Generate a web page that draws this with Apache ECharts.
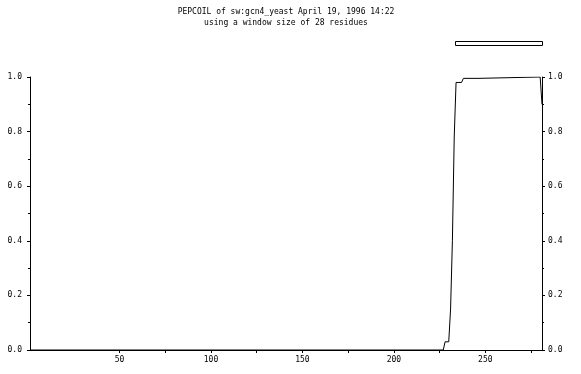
<!DOCTYPE html>
<html>
<head>
<meta charset="utf-8">
<script src="https://cdn.jsdelivr.net/npm/echarts@6/dist/echarts.min.js"></script>
<style>html,body{margin:0;padding:0;background:#fff;}#c{width:581px;height:374px;}</style>
</head>
<body>
<div id="c"></div>
<script>
const titleText = 'PEPCOIL of sw:gcn4_yeast April 19, 1996 14:22';
const subtitleText = 'using a window size of 28 residues';
const residues = [1, 227, 228, 230, 231, 232, 233, 234, 237, 238, 246, 247, 280, 281];
const scores   = [0, 0, 0.03, 0.03, 0.15, 0.40, 0.78, 0.98, 0.98, 0.995, 0.995, 1.0, 1.0, 0.9];
const xLabelValues = [50, 100, 150, 200, 250];
const xTickValues = [50, 75, 100, 125, 150, 175, 200, 225, 250, 275];

const FONT = 'DejaVu Sans Mono';
const chart = echarts.init(document.getElementById('c'), null, {renderer: 'canvas'});
const yAxisBase = {
  type: 'value', min: 0, max: 1, interval: 0.2,
  axisLine: {show: true, lineStyle: {color: '#000', width: 1}},
  axisTick: {show: true, length: 3, lineStyle: {color: '#000'}},
  minorTick: {show: true, splitNumber: 2, length: 2, lineStyle: {color: '#000'}},
  splitLine: {show: false},
  axisLabel: {color: '#000', fontFamily: FONT, fontSize: 8, formatter: v => v.toFixed(1)}
};
chart.setOption({
  animation: false,
  backgroundColor: '#fff',
  grid: {left: 30, right: 39, top: 77, bottom: 24, containLabel: false},
  xAxis: {
    type: 'value', min: 1, max: 281,
    axisLine: {show: true, onZero: false, lineStyle: {color: '#000', width: 1}},
    axisTick: {show: true, length: 3, customValues: xTickValues, lineStyle: {color: '#000'}},
    axisLabel: {color: '#000', fontFamily: FONT, fontSize: 8, margin: 6, customValues: xLabelValues},
    splitLine: {show: false}
  },
  yAxis: [
    Object.assign({}, yAxisBase, {position: 'left', axisLabel: Object.assign({}, yAxisBase.axisLabel, {margin: 8})}),
    Object.assign({}, yAxisBase, {position: 'right', axisLabel: Object.assign({}, yAxisBase.axisLabel, {margin: 6})})
  ],
  series: [{
    type: 'line',
    data: residues.map((r, i) => [r, scores[i]]),
    showSymbol: false,
    symbol: 'none',
    lineStyle: {color: '#000', width: 1},
    yAxisIndex: 0
  }],
  graphic: [
    {type: 'text', x: 286, y: 8, style: {text: titleText, fontFamily: FONT, fontSize: 8, fill: '#000', align: 'center', textAlign: 'center'}},
    {type: 'text', x: 286, y: 19, style: {text: subtitleText, fontFamily: FONT, fontSize: 8, fill: '#000', align: 'center', textAlign: 'center'}},
    {type: 'rect', shape: {x: 455.5, y: 41.5, width: 87, height: 4}, style: {fill: '#fff', stroke: '#000', lineWidth: 1}}
  ]
});
</script>
</body>
</html>
